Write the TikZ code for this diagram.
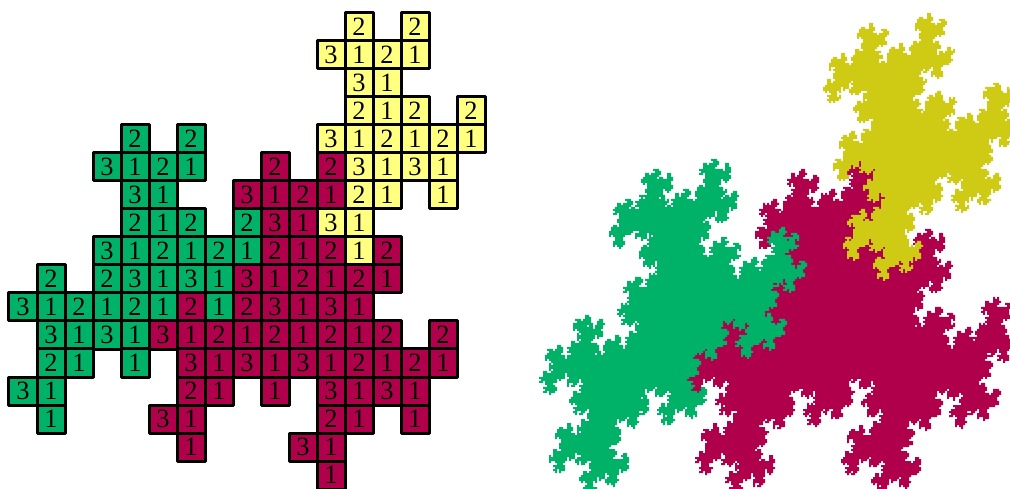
\documentclass[tikz,border=0pt]{standalone}
\usepackage{fontspec}
\setmainfont{Liberation Serif}
\usepackage{tikz}

\definecolor{tilered}{RGB}{176,0,76}
\definecolor{tilegreen}{RGB}{0,178,104}
\definecolor{tileyellow}{RGB}{255,255,128}
\definecolor{fractalyellow}{RGB}{207,203,20}

\tikzset{
  cell/.style={draw=black, line width=3bp, line join=round, minimum size=28bp,
    inner sep=0pt, font=\fontsize{26.5}{26.5}\selectfont},
  redcell/.style={cell, fill=tilered},
  greencell/.style={cell, fill=tilegreen},
  yellowcell/.style={cell, fill=tileyellow}
}

% 面的递归展开
\def\stepface#1#2#3#4#5{\expandafter\stepfacei\number\numexpr#2-1\expandafter;\number\numexpr#3\expandafter;\number\numexpr#4\expandafter;\number\numexpr#5;#1}
\def\stepfacei#1;#2;#3;#4;#5{#5{#1}{#2}{#3}{#4}}
\def\cellrect#1#2{\number\numexpr2*((#1)*1075/2000)\relax\space\number\numexpr2*((#2)*1075/2000)\relax\space 2 2 re\space}
\def\faceA#1#2#3#4{\ifnum#1>0
  \stepface\faceA{#1}{#4}{#2-#4}{#3}\stepface\faceB{#1}{#4}{#2-#4}{#3}%
  \else\cellrect{#4-#2}{#3-#4}\fi}
\def\faceB#1#2#3#4{\ifnum#1>0
  \stepface\faceC{#1}{#4}{#2-#4}{#3}%
  \else\cellrect{#4-#2}{#3-#4-1}\fi}
\def\faceC#1#2#3#4{\ifnum#1>0
  \stepface\faceA{#1}{#4}{#2+1-#4}{#3}%
  \else\cellrect{#4-#2-1}{#3-#4}\fi}

\makeatletter
\newcommand{\filltile}[2]{%
  \begin{pgfscope}\pgfsetfillcolor{#1}%
  \pgfsys@invoke{q 1 0 0 -1 837 -311 cm #2 f Q}%
  \end{pgfscope}}
\makeatother

\begin{document}
\begin{tikzpicture}[x=1bp, y=-1bp]
    \useasboundingbox (0,0) rectangle (1010,489);

    % 黄色方格
    \foreach \r/\cells in {0/{12/2,14/2}, 1/{11/3,12/1,13/2,14/1}, 2/{12/3,13/1},
        3/{12/2,13/1,14/2,16/2}, 4/{11/3,12/1,13/2,14/1,15/2,16/1},
        5/{12/3,13/1,14/3,15/1}, 6/{12/2,13/1,15/1}, 7/{11/3,12/1}, 8/{12/1}}
      \foreach \c/\d in \cells
        \node[yellowcell] (y\c-\r) at ({23+28*\c},{27+28*\r}) {\d};

    % 绿色方格
    \foreach \r/\cells in {4/{4/2,6/2}, 5/{3/3,4/1,5/2,6/1}, 6/{4/3,5/1},
        7/{4/2,5/1,6/2,8/2}, 8/{3/3,4/1,5/2,6/1,7/2,8/1},
        9/{1/2,3/2,4/3,5/1,6/3,7/1}, 10/{0/3,1/1,2/2,3/1,4/2,5/1,7/1},
        11/{1/3,2/1,3/3,4/1}, 12/{1/2,2/1,4/1}, 13/{0/3,1/1}, 14/{1/1}}
      \foreach \c/\d in \cells
        \node[greencell] (g\c-\r) at ({23+28*\c},{27+28*\r}) {\d};

    % 红色方格
    \foreach \r/\cells in {5/{9/2,11/2}, 6/{8/3,9/1,10/2,11/1}, 7/{9/3,10/1},
        8/{9/2,10/1,11/2,13/2}, 9/{8/3,9/1,10/2,11/1,12/2,13/1},
        10/{6/2,8/2,9/3,10/1,11/3,12/1},
        11/{5/3,6/1,7/2,8/1,9/2,10/1,11/2,12/1,13/2,15/2},
        12/{6/3,7/1,8/3,9/1,10/3,11/1,12/2,13/1,14/2,15/1},
        13/{6/2,7/1,9/1,11/3,12/1,13/3,14/1}, 14/{5/3,6/1,11/2,12/1,14/1},
        15/{6/1,10/3,11/1}, 16/{11/1}}
      \foreach \c/\d in \cells
        \node[redcell] (r\c-\r) at ({23+28*\c},{27+28*\r}) {\d};

    % 右侧分形
    \filltile{tilered}{\faceA{27}{0}{0}{0}}
    \filltile{tilegreen}{\faceC{27}{0}{0}{0}}
    \filltile{fractalyellow}{\faceB{27}{0}{0}{0}}
\end{tikzpicture}
\end{document}
